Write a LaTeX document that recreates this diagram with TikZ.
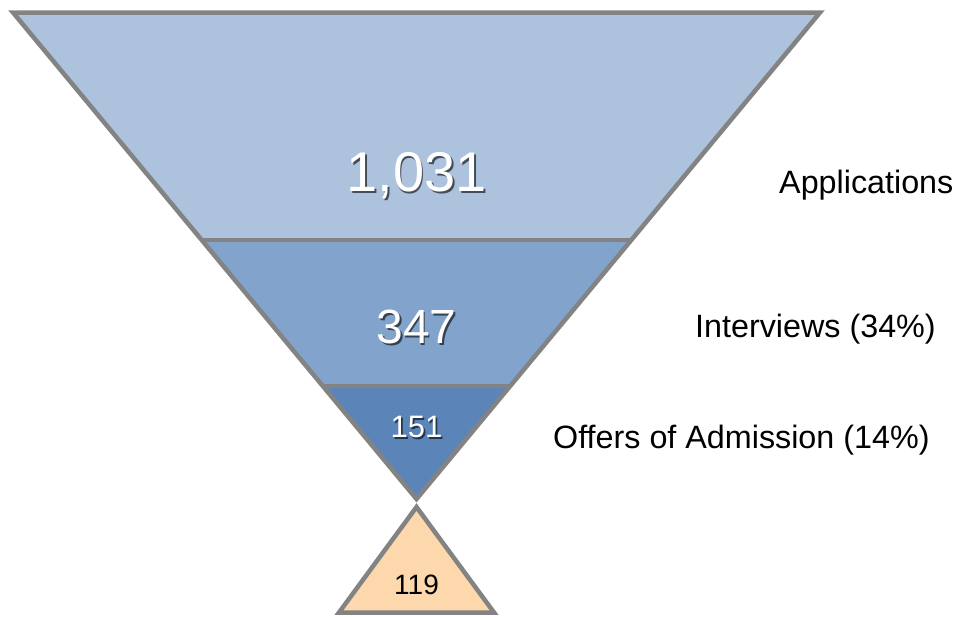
\documentclass[tikz,border=0pt]{standalone}
\usepackage{fontspec}
\setmainfont{Liberation Sans}
\usetikzlibrary{calc}

\definecolor{bandtop}{HTML}{ADC2DC}
\definecolor{bandmid}{HTML}{82A3CB}
\definecolor{bandlow}{HTML}{5B84B8}
\definecolor{enrolled}{HTML}{FCD8AC}
\definecolor{edgegray}{HTML}{838383}

\tikzset{
  outline/.style={draw=edgegray, line width=4.5pt, line join=miter},
  divider/.style={draw=edgegray, line width=4pt},
  stagelabel/.style={anchor=base west, inner sep=0pt, font=\fontsize{32.3}{37}\selectfont},
}

% white number with a soft dark shadow: name, position, size, text
\newcommand{\stagenum}[4]{%
  \node[text=black, opacity=0.6] (#1-shadow) at ($(#2)+(1.8,1.8)$) {\fontsize{#3}{#3}\selectfont #4};
  \node[text=white] (#1) at (#2) {\fontsize{#3}{#3}\selectfont #4};}

\begin{document}
\begin{tikzpicture}[x=1pt, y=-1pt]
	\useasboundingbox (0, 0) rectangle (963, 616);

	\coordinate (tl) at (13, 12.5);
	\coordinate (tr) at (820, 12.5);
	\coordinate (apex) at (416.5, 499);

	\coordinate (l1) at ($(tl)!0.4676!(apex)$);
	\coordinate (r1) at ($(tr)!0.4676!(apex)$);
	\coordinate (l2) at ($(tl)!0.7677!(apex)$);
	\coordinate (r2) at ($(tr)!0.7677!(apex)$);

	\fill[bandtop] (tl) -- (tr) -- (r1) -- (l1) -- cycle;
	\fill[bandmid] (l1) -- (r1) -- (r2) -- (l2) -- cycle;
	\fill[bandlow] (l2) -- (r2) -- (apex) -- cycle;

	\draw[divider] (l1) -- (r1);
	\draw[divider] (l2) -- (r2);
	\draw[outline] (tl) -- (tr) -- (apex) -- cycle;  % funnel

	% enrolled
	\coordinate (top2) at (416.5, 507);
	\coordinate (bl2) at (339, 612.5);
	\coordinate (br2) at (494, 612.5);
	\filldraw[outline, fill=enrolled] (top2) -- (br2) -- (bl2) -- cycle;

	\stagenum{napp}{416.5, 176}{56}{1,031}
	\stagenum{nint}{416.5, 327}{48}{347}
	\stagenum{noff}{416.5, 427}{31}{151}
	\node[font=\fontsize{28}{28}\selectfont] (nenr) at (416.5, 585) {119};

	\node[stagelabel] (lapp) at (779, 193) {Applications};
	\node[stagelabel] (lint) at (695, 337) {Interviews (34\%)};
	\node[stagelabel] (loff) at (553, 448) {Offers of Admission (14\%)};

\end{tikzpicture}
\end{document}
